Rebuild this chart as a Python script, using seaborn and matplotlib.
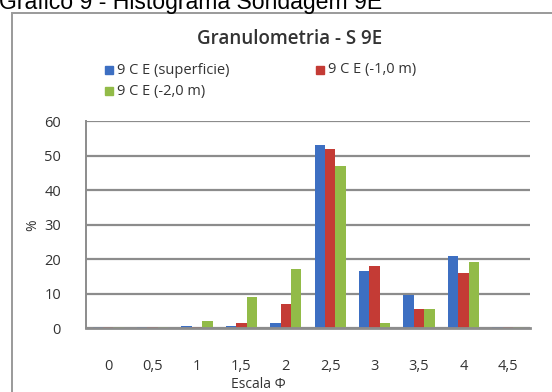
import matplotlib
matplotlib.use("Agg")
import matplotlib.pyplot as plt
import seaborn as sns
import pandas as pd
from matplotlib.patches import Rectangle

# Phi scale classes and percentage retained per sample depth
categories = ["0", "0,5", "1", "1,5", "2", "2,5", "3", "3,5", "4", "4,5"]
superficie = [0.3, 0.2, 0.5, 0.5, 1.5, 53.0, 16.5, 9.5, 21.0, 0.3]
menos_1m = [0.3, 0.2, 0.3, 1.5, 7.0, 52.0, 18.0, 5.5, 16.0, 0.3]
menos_2m = [0.3, 0.2, 2.0, 9.0, 17.0, 47.0, 1.5, 5.5, 19.0, 0.3]
series_names = ["9 C E (superficie)", "9 C E (-1,0 m)", "9 C E (-2,0 m)"]
y_ticks = [0, 10, 20, 30, 40, 50, 60]

colors = ["#3d6fc2", "#c43b35", "#92bb48"]
txt = "#333333"

df = pd.DataFrame({
    "cat": categories * 3,
    "val": superficie + menos_1m + menos_2m,
    "serie": [series_names[0]] * 10 + [series_names[1]] * 10 + [series_names[2]] * 10,
})

sns.set_style("white")
plt.rcParams["font.family"] = ["Open Sans", "DejaVu Sans"]

W, H = 552, 392
fig = plt.figure(figsize=(W / 100, H / 100), dpi=100)
fig.patch.set_facecolor("white")


def fx(px):
    return px / W


def fy(py):
    return 1 - py / H


# chart frame
frame = Rectangle((fx(12), -0.05), 1.0, fy(13) + 0.05, transform=fig.transFigure,
                  fill=False, edgecolor="#9a9a9a", linewidth=1.4)
fig.add_artist(frame)

# document heading above the chart frame
fig.text(fx(-1), fy(9), "Gráfico 9 - Histograma Sondagem 9E",
         family=["Liberation Sans", "DejaVu Sans"], fontsize=16.6, color="black",
         ha="left", va="baseline")

ax = fig.add_axes([fx(86), fy(328), 444 / W, (328 - 121) / H])
sns.barplot(data=df, x="cat", y="val", hue="serie", order=categories,
            hue_order=series_names, palette=colors, width=0.7, gap=0,
            saturation=1, ax=ax, legend=False, edgecolor="none")

ax.set_ylim(0, 60)
ax.set_xlim(-0.5, 9.5)
ax.set_yticks(y_ticks)
ax.set_yticklabels([str(t) for t in y_ticks])
ax.yaxis.grid(True, color="#8c8c8c", linewidth=1.6)
ax.set_axisbelow(True)
for s in ["top", "right"]:
    ax.spines[s].set_visible(False)
ax.spines["left"].set_color("#8c8c8c")
ax.spines["left"].set_linewidth(1.4)
ax.spines["bottom"].set_color("#8c8c8c")
ax.spines["bottom"].set_linewidth(2.0)
ax.tick_params(axis="y", length=6, width=1.2, color="#8c8c8c", pad=12, labelsize=10.5, labelcolor=txt)
ax.tick_params(axis="x", length=0, pad=22, labelsize=10.5, labelcolor=txt)
ax.set_xlabel("")
ax.set_ylabel("")

fig.text(fx(258), fy(384), "Escala Φ", fontsize=10, color=txt, ha="center", va="center")
fig.text(fx(33), fy(225), "%", fontsize=10, color=txt, rotation=90, ha="center", va="center")

fig.text(fx(290), fy(44), "Granulometria - S 9E", fontsize=13.5, fontweight="semibold",
         color=txt, ha="center", va="baseline")

# legend laid out in two rows
legend_items = [(105, 70, 0), (316, 70, 1), (105, 91, 2)]
for x, y, i in legend_items:
    fig.add_artist(Rectangle((fx(x), fy(y + 4)), 8 / W, 8 / H,
                             transform=fig.transFigure, color=colors[i]))
    fig.text(fx(x + 12), fy(y), series_names[i], fontsize=10.5,
             color=txt, ha="left", va="center")

fig.savefig("out.png", dpi=100)
